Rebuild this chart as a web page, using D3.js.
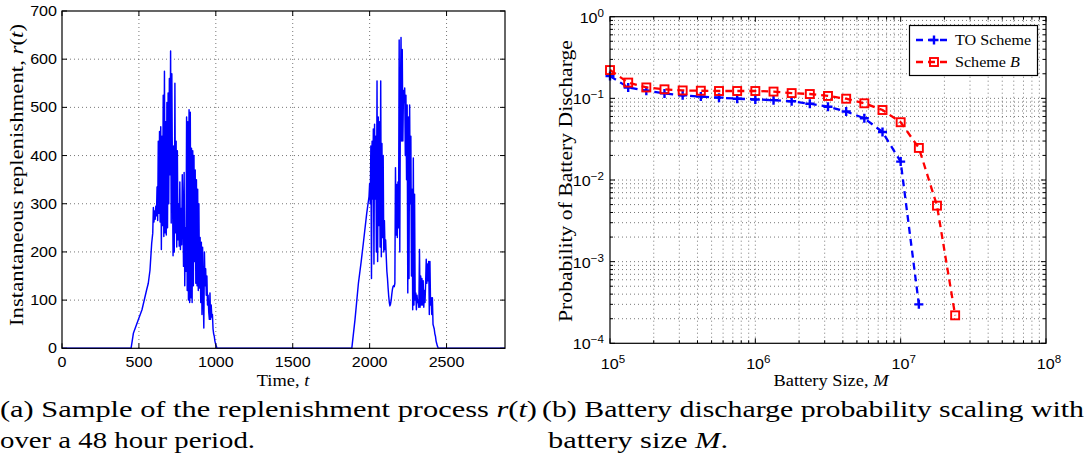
<!DOCTYPE html>
<html>
<head>
<meta charset="utf-8">
<script src="https://cdn.jsdelivr.net/npm/d3@7"></script>
<style>
  body { margin: 0; background: #fff; }
  svg { display: block; }
</style>
</head>
<body>
<svg id="fig" width="1084" height="472"></svg>
<script>
// ---------------- (a) replenishment process r(t) over 48 hours ----------------
// morning ramp, then a noisy burst sampled every 4 minutes
const rampA_t = [0, 449, 464, 496, 520, 550, 561, 572, 583, 590];
const rampA_r = [0, 0, 31, 59, 80, 121, 135, 162, 218, 239];
const burstA_start = 594;
const burstStep = 4;
const burstA_r = [
  292, 262, 285, 268, 295, 275,
  335, 265, 430, 280, 450,
  262, 460, 205, 440, 255,
  525, 232, 575, 240, 470, 235,
  510, 250, 530, 300, 560,
  360, 617, 260, 570, 350, 192,
  420, 200, 550, 240, 430,
  210, 410, 225, 300, 212,
  345, 205, 290, 215, 360, 280,
  170, 365, 130, 250, 160,
  480, 120, 470, 100, 495, 95,
  490, 105, 415, 95, 410,
  130, 400, 180, 370, 135, 350,
  130, 330, 120, 300, 125,
  230, 95, 220, 70, 210, 115,
  42, 200, 130, 165, 110,
  150, 90, 110, 75, 60,
  115, 60, 90, 65, 70, 40,
  30, 25, 15, 10, 5, 2, 0
];
// second day
const rampB_t = [1884, 1905, 1927, 1945, 1959, 1981, 1996];
const rampB_r = [0, 60, 135, 180, 218, 280, 315];
const burstB_start = 2000;
const burstB_r = [
  342, 300, 420, 145, 430, 310,
  455, 175, 465, 310, 440, 200,
  555, 180, 480, 255, 470,
  210, 555, 190, 425, 230, 400,
  200, 265, 205, 225, 190,
  160, 145, 125, 108, 95, 88, 92, 100, 112, 122, 128, 130, 128, 135,
  375, 235, 340, 230, 345, 250,
  640, 200, 520, 645, 430,
  620, 430, 535, 510, 540, 400,
  525, 350, 505, 115, 480,
  145, 505, 300, 440, 150, 330,
  80, 395, 90, 320, 100,
  115, 80, 110, 95, 100, 85,
  205, 85, 150, 90, 145,
  90, 140, 85, 120, 95, 135,
  185, 135, 175, 140, 180,
  70, 180, 90, 105, 70, 105,
  50, 45, 40, 30, 25,
  15, 10, 5, 2, 0
];
const timeEnd = 2880;
const timeTicks = [0, 500, 1000, 1500, 2000, 2500];
const rTicks = [0, 100, 200, 300, 400, 500, 600, 700];

// ---------------- (b) discharge probability vs battery size ----------------
const batterySize = [1e5, 1.334e5, 1.778e5, 2.371e5, 3.162e5, 4.217e5, 5.623e5, 7.499e5,
                     1e6, 1.334e6, 1.778e6, 2.371e6, 3.162e6, 4.217e6, 5.623e6, 7.499e6,
                     1e7, 1.334e7, 1.778e7, 2.371e7];
const probTO = [0.188, 0.136, 0.124, 0.115, 0.109, 0.105, 0.102, 0.099,
                0.097, 0.095, 0.092, 0.086, 0.079, 0.069, 0.057, 0.0387,
                0.0168, 3.0e-4];
const probB = [0.222, 0.156, 0.136, 0.129, 0.125, 0.124, 0.123, 0.123,
               0.123, 0.121, 0.116, 0.113, 0.107, 0.099, 0.087, 0.072,
               0.051, 0.0247, 0.00485, 2.2e-4];
const sizeDecades = [5, 6, 7, 8];
const probDecades = [0, -1, -2, -3, -4];
const legendNames = [[{t: "TO Scheme"}], [{t: "Scheme "}, {t: "B", it: true}]];

// ---------------- drawing ----------------
const svg = d3.select("#fig");
const SANS = "'Liberation Sans', Arial, sans-serif";
const SERIF = "'Liberation Serif', 'Times New Roman', serif";
const SX = 1.15;   // glyphs of the figure are slightly wide

function rich(parent, x, y, segs, o) {
  const g = parent.append("g")
    .attr("transform", `translate(${x},${y}) rotate(${o.rot || 0}) scale(${o.rot ? 1 : SX},${o.rot ? SX : 1})`);
  const t = g.append("text")
    .attr("font-family", o.family || SANS)
    .attr("font-size", o.size || 13)
    .attr("text-anchor", o.anchor || "start")
    .attr("fill", "#000");
  segs.forEach(s => {
    const sp = t.append("tspan").text(s.t);
    if (s.it) sp.attr("font-style", "italic");
    if (s.sup) sp.attr("dy", "-0.6em").attr("font-size", "0.72em");
  });
  if (o.len) t.attr("textLength", o.len).attr("lengthAdjust", "spacingAndGlyphs");
  return t;
}

function gridDotted(g, lines) {
  g.selectAll(null).data(lines).join("line")
    .attr("x1", d => d[0]).attr("y1", d => d[1]).attr("x2", d => d[2]).attr("y2", d => d[3])
    .attr("stroke", "#555").attr("stroke-width", 0.8).attr("stroke-dasharray", "1,3");
}

function tickMarks(g, marks) {
  g.selectAll(null).data(marks).join("line")
    .attr("x1", d => d[0]).attr("y1", d => d[1]).attr("x2", d => d[2]).attr("y2", d => d[3])
    .attr("stroke", "#000").attr("stroke-width", 1);
}

// ===== panel (a) =====
const A = {l: 62, r: 505, t: 11, b: 348.3};
const xA = d3.scaleLinear().domain([0, timeEnd]).range([A.l, A.r]);
const yA = d3.scaleLinear().domain([0, 700]).range([A.b, A.t]);

const series = [];
rampA_t.forEach((t, i) => series.push([t, rampA_r[i]]));
burstA_r.forEach((r, i) => series.push([burstA_start + i * burstStep, r]));
rampB_t.forEach((t, i) => series.push([t, rampB_r[i]]));
burstB_r.forEach((r, i) => series.push([burstB_start + i * burstStep, r]));
series.push([timeEnd, 0]);

const gA = svg.append("g");
gridDotted(gA.append("g"), [
  ...timeTicks.filter(v => v > 0).map(v => [xA(v), A.t, xA(v), A.b]),
  ...rTicks.filter(v => v > 0 && v < 700).map(v => [A.l, yA(v), A.r, yA(v)])
]);
gA.append("path").datum(series)
  .attr("d", d3.line().x(d => xA(d[0])).y(d => yA(d[1])))
  .attr("fill", "none").attr("stroke", "#0000ff").attr("stroke-width", 1.45)
  .attr("stroke-linejoin", "round");
tickMarks(gA.append("g"), [
  ...timeTicks.flatMap(v => [[xA(v), A.b, xA(v), A.b - 5], [xA(v), A.t, xA(v), A.t + 5]]),
  ...rTicks.flatMap(v => [[A.l, yA(v), A.l + 5, yA(v)], [A.r, yA(v), A.r - 5, yA(v)]])
]);
gA.append("rect").attr("x", A.l).attr("y", A.t).attr("width", A.r - A.l).attr("height", A.b - A.t)
  .attr("fill", "none").attr("stroke", "#000").attr("stroke-width", 1.2);
timeTicks.forEach(v => rich(gA, xA(v), 367, [{t: String(v)}], {anchor: "middle", size: 14}));
rTicks.forEach(v => rich(gA, A.l - 5, yA(v) + 5, [{t: String(v)}], {anchor: "end", size: 14}));
rich(gA, 283, 386, [{t: "Time, "}, {t: "t", it: true}], {anchor: "middle", size: 16, family: SERIF});
rich(gA, 23, 175, [{t: "Instantaneous replenishment, "}, {t: "r", it: true}, {t: "("}, {t: "t", it: true}, {t: ")"}],
  {anchor: "middle", size: 17, family: SERIF, rot: -90, len: 302});

// ===== panel (b) =====
const B = {l: 610, r: 1046, t: 16.7, b: 343.3};
const xB = d3.scaleLog().domain([1e5, 1e8]).range([B.l, B.r]);
const yB = d3.scaleLog().domain([1e-4, 1]).range([B.b, B.t]);
const gB = svg.append("g");

const xMajor = sizeDecades.map(e => Math.pow(10, e));
const yMajor = probDecades.map(e => Math.pow(10, e));
const xMinor = sizeDecades.slice(0, -1).flatMap(e => d3.range(2, 10).map(m => m * Math.pow(10, e)));
const yMinor = probDecades.slice(1).flatMap(e => d3.range(2, 10).map(m => m * Math.pow(10, e)));

gridDotted(gB.append("g"), [
  ...xMajor.slice(1, -1).concat(xMinor).map(v => [xB(v), B.t, xB(v), B.b]),
  ...yMajor.slice(1, -1).concat(yMinor).map(v => [B.l, yB(v), B.r, yB(v)])
]);
tickMarks(gB.append("g"), [
  ...xMajor.flatMap(v => [[xB(v), B.b, xB(v), B.b - 5], [xB(v), B.t, xB(v), B.t + 5]]),
  ...xMinor.flatMap(v => [[xB(v), B.b, xB(v), B.b - 3], [xB(v), B.t, xB(v), B.t + 3]]),
  ...yMajor.flatMap(v => [[B.l, yB(v), B.l + 5, yB(v)], [B.r, yB(v), B.r - 5, yB(v)]]),
  ...yMinor.flatMap(v => [[B.l, yB(v), B.l + 3, yB(v)], [B.r, yB(v), B.r - 3, yB(v)]])
]);

const lineB = d3.line().x(d => xB(d[0])).y(d => yB(d[1]));
const seriesB = [
  {vals: probTO, color: "#0000ff", marker: "plus"},
  {vals: probB, color: "#ff0000", marker: "square"}
];
function marker(g, kind, color, x, y) {
  if (kind === "plus") {
    g.append("path").attr("d", `M${x - 4.5},${y}H${x + 4.5}M${x},${y - 4.5}V${y + 4.5}`)
      .attr("stroke", color).attr("stroke-width", 2.4).attr("fill", "none");
  } else {
    g.append("rect").attr("x", x - 4).attr("y", y - 4).attr("width", 8).attr("height", 8)
      .attr("stroke", color).attr("stroke-width", 1.9).attr("fill", "none");
  }
}
seriesB.forEach(s => {
  const pts = s.vals.map((v, i) => [batterySize[i], v]);
  gB.append("path").datum(pts).attr("d", lineB)
    .attr("fill", "none").attr("stroke", s.color).attr("stroke-width", 2.3)
    .attr("stroke-dasharray", "7,5");
  pts.forEach(p => marker(gB, s.marker, s.color, xB(p[0]), yB(p[1])));
});

gB.append("rect").attr("x", B.l).attr("y", B.t).attr("width", B.r - B.l).attr("height", B.b - B.t)
  .attr("fill", "none").attr("stroke", "#000").attr("stroke-width", 1.2);

sizeDecades.forEach(e => rich(gB, xB(Math.pow(10, e)) + 3, 369,
  [{t: "10"}, {t: String(e), sup: true}], {anchor: "middle", size: 14}));
probDecades.forEach(e => rich(gB, B.l - 6, yB(Math.pow(10, e)) + 6,
  [{t: "10"}, {t: e === 0 ? "0" : "\u2212" + (-e), sup: true}], {anchor: "end", size: 14}));
rich(gB, 831, 386, [{t: "Battery Size, "}, {t: "M", it: true}], {anchor: "middle", size: 16, family: SERIF});
rich(gB, 572, 181, [{t: "Probability of Battery Discharge"}],
  {anchor: "middle", size: 17, family: SERIF, rot: -90, len: 282});

// legend
const leg = gB.append("g");
leg.append("rect").attr("x", 909.5).attr("y", 25.5).attr("width", 128).attr("height", 50)
  .attr("fill", "#fff").attr("stroke", "#000").attr("stroke-width", 1.2);
seriesB.forEach((s, i) => {
  const y = 40 + i * 22;
  leg.append("line").attr("x1", 916).attr("x2", 952).attr("y1", y).attr("y2", y)
    .attr("stroke", s.color).attr("stroke-width", 2.3).attr("stroke-dasharray", "7,5");
  marker(leg, s.marker, s.color, 934, y);
  rich(leg, 955, y + 5, legendNames[i], {size: 14, family: SERIF});
});

// ===== captions =====
const cap = svg.append("g");
function caption(x, y, segs, len) {
  const t = cap.append("text").attr("x", x).attr("y", y)
    .attr("font-family", SERIF).attr("font-size", 24).attr("fill", "#000");
  segs.forEach(s => {
    const sp = t.append("tspan").text(s.t);
    if (s.it) sp.attr("font-style", "italic");
  });
  t.attr("textLength", len).attr("lengthAdjust", "spacingAndGlyphs");
}
caption(0, 417, [{t: "(a) Sample of the replenishment process "}, {t: "r", it: true}, {t: "("}, {t: "t", it: true}, {t: ")"}], 537);
caption(0, 448, [{t: "over a 48 hour period."}], 255);
caption(542, 417, [{t: "(b) Battery discharge probability scaling with"}], 542);
caption(548, 448, [{t: "battery size "}, {t: "M", it: true}, {t: "."}], 180);
</script>
</body>
</html>
